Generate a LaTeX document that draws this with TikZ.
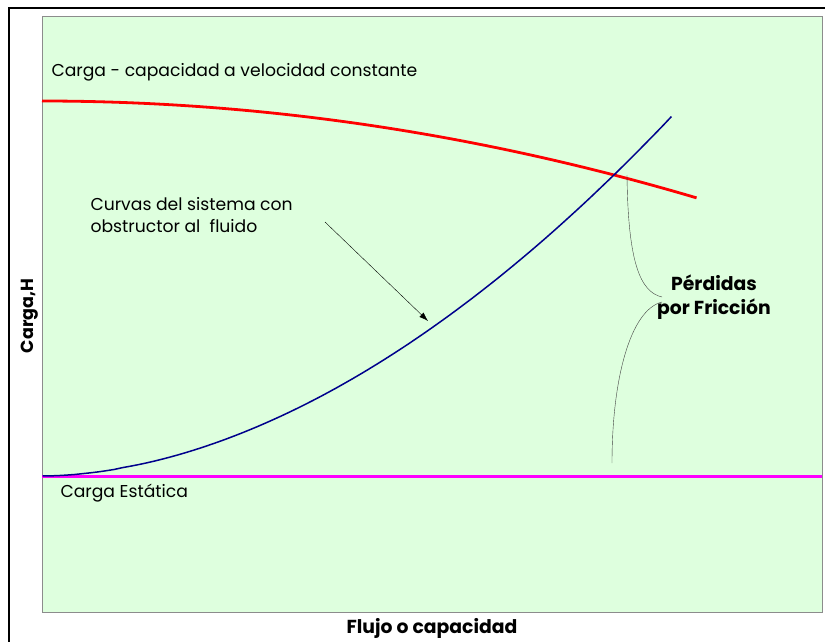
\documentclass[tikz,border=0pt]{standalone}
\usepackage{fontspec}
\setmainfont{Poppins}
\usepackage{xcolor}
\usetikzlibrary{arrows.meta,positioning}

\begin{document}
\begin{tikzpicture}[
    x=1pt,y=-1pt,
    every node/.style={font=\fontsize{17.2}{22}\selectfont},
    bold label/.style={font=\fontsize{18.8}{24}\selectfont\bfseries},
    help lines/.style={thin,draw=black!75}
  ]
  \colorlet{plotbg}{green!13!white}
  \colorlet{pump}{red}
  \colorlet{system}{blue!55!black}
  \definecolor{static}{RGB}{255,0,255}
  \useasboundingbox (0,0) rectangle (825,642);
  % marco y area del grafico
  \draw[line width=2pt] (9,8) rectangle (900,700);
  \draw[draw=black!45,fill=plotbg] (42,16) rectangle (822,612);
  % curvas
  \draw[static,line width=3pt] (42,476) coordinate (S0) -- (822,476) coordinate (S1);
  \draw[pump,line width=2.8pt] plot[domain=0:1,samples=60] ({42+655*\x},{101+97*\x*\x});
  \draw[system,line width=1.5pt] plot[domain=0.001:1,samples=80] ({42+630*\x},{476-360*\x^1.85});
  % textos
  \node[anchor=west] (pumpcurve) at (48,72) {Carga - capacidad a velocidad constante};
  \node[anchor=west,align=left] (syscurve) at (87,215) {Curvas del sistema con\\obstructor al\ \ fluido};
  \node[anchor=west] (static) at (57,493) {Carga Estática};
  \node[bold label,align=center] (friction) at (714,297) {Pérdidas\\por Fricción};
  \node[bold label] (xlabel) at (432,628) {Flujo o capacidad};
  \node[bold label,font=\fontsize{17.5}{24}\selectfont\bfseries,rotate=90] (ylabel) at (30,316) {Carga,H};
  % flecha y llaves
  \coordinate (A) at (325,222);
  \coordinate (B) at (428,321);
  \draw[-{Latex[length=9pt,width=6pt]}] (A) -- (B);
  \coordinate (C) at (627,175);
  \coordinate (D) at (612,463);
  \coordinate (E) at (662,297);
  \coordinate (F) at (662,302);
  \draw[help lines] (C) .. controls (628,262) and (640,292) .. (E);
  \draw[help lines] (F) .. controls (630,310) and (612,380) .. (D);
\end{tikzpicture}
\end{document}
